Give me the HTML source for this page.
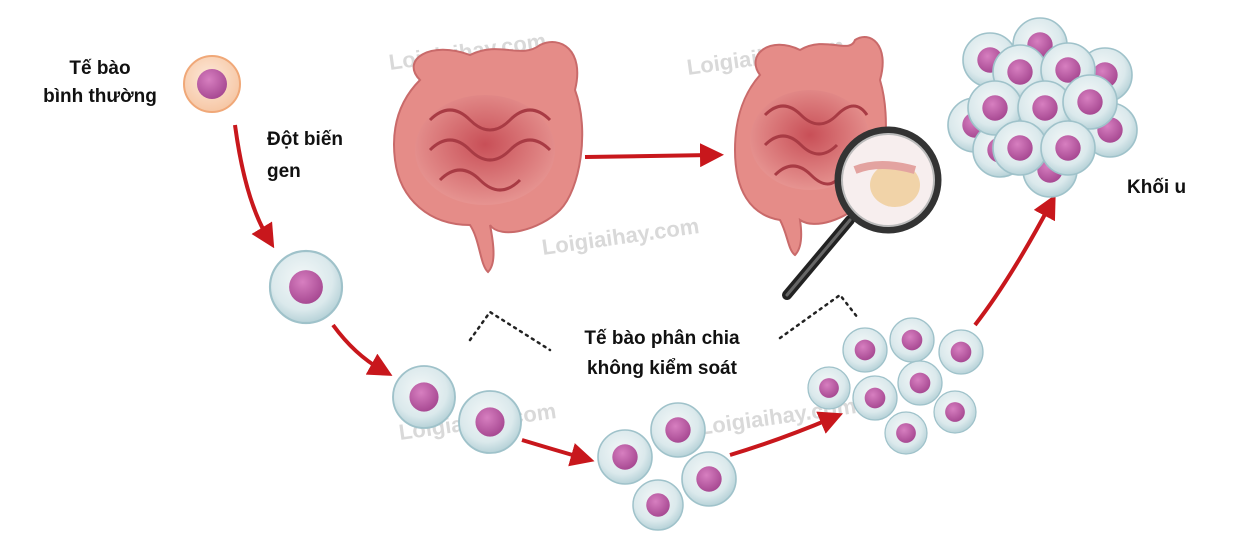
<!DOCTYPE html>
<html><head><meta charset="utf-8"><style>
html,body{margin:0;padding:0;background:#fff;}
svg{display:block;}
text{font-family:"Liberation Sans","DejaVu Sans",sans-serif;}
</style></head><body>
<svg width="1254" height="536" viewBox="0 0 1254 536" xmlns="http://www.w3.org/2000/svg">
<defs>
<radialGradient id="cell" cx="45%" cy="40%" r="60%">
<stop offset="0" stop-color="#f4f8f8"/><stop offset="0.7" stop-color="#dbe9ec"/><stop offset="1" stop-color="#b7d2d8"/></radialGradient>
<radialGradient id="nuc" cx="40%" cy="35%" r="65%">
<stop offset="0" stop-color="#d77fc0"/><stop offset="1" stop-color="#a84a93"/></radialGradient>
<radialGradient id="norm" cx="45%" cy="40%" r="60%">
<stop offset="0" stop-color="#fde9da"/><stop offset="1" stop-color="#f6c7a5"/></radialGradient>
<radialGradient id="gut" cx="50%" cy="45%" r="60%">
<stop offset="0" stop-color="#c84f57"/><stop offset="1" stop-color="#e99a96"/></radialGradient>
<marker id="ah" markerWidth="6" markerHeight="6" refX="3" refY="3" orient="auto" markerUnits="strokeWidth">
<path d="M0,0 L6,3 L0,6 Z" fill="#c8171c"/></marker>
<g id="c"><circle r="1" fill="url(#cell)" stroke="#9fc2ca" stroke-width="0.06"/><circle r="0.47" fill="url(#nuc)"/></g>
</defs>

<!-- watermarks -->
<g fill="#d9d9d9" font-weight="bold" font-family="Liberation Serif,serif" font-size="22">
<text x="390" y="70" transform="rotate(-8 390 70)">Loigiaihay.com</text>
<text x="688" y="75" transform="rotate(-8 688 75)">Loigiaihay.com</text>
<text x="543" y="255" transform="rotate(-8 543 255)">Loigiaihay.com</text>
<text x="400" y="440" transform="rotate(-8 400 440)">Loigiaihay.com</text>
<text x="700" y="435" transform="rotate(-8 700 435)">Loigiaihay.com</text>
</g>

<!-- intestines -->
<g>
<path d="M420,80 C400,60 430,40 470,55 C500,40 520,60 540,45 C560,35 585,50 575,90 C590,130 580,190 560,210 C540,230 500,240 490,225 C495,250 495,265 488,272 C480,265 480,240 470,225 C430,225 400,200 395,160 C390,120 405,95 420,80 Z" fill="#e58c88" stroke="#c96a6a" stroke-width="2"/>
<ellipse cx="485" cy="150" rx="70" ry="55" fill="url(#gut)"/>
<path d="M430,120 q20,-20 40,0 t40,0 t40,0 M430,150 q20,-20 40,0 t40,0 t40,0 M440,180 q20,-20 40,0 t40,0" fill="none" stroke="#a83b44" stroke-width="3"/>
<path d="M760,75 C745,55 770,35 800,50 C825,35 850,55 855,40 C870,30 890,45 880,80 C892,120 885,180 865,200 C845,220 815,230 800,220 C803,240 800,250 795,255 C788,250 788,235 780,220 C750,215 735,190 735,150 C735,115 745,92 760,75 Z" fill="#e58c88" stroke="#c96a6a" stroke-width="2"/>
<ellipse cx="810" cy="140" rx="60" ry="50" fill="url(#gut)"/>
<path d="M765,115 q18,-18 36,0 t36,0 t30,0 M765,145 q18,-18 36,0 t36,0 M775,175 q18,-18 36,0 t30,0" fill="none" stroke="#a83b44" stroke-width="3"/>
<line x1="850" y1="220" x2="787" y2="295" stroke="#222" stroke-width="10" stroke-linecap="round"/>
<line x1="850" y1="220" x2="787" y2="295" stroke="#666" stroke-width="3" stroke-linecap="round"/>
<circle cx="888" cy="180" r="50" fill="#f7eeee" stroke="#333" stroke-width="7"/>
<circle cx="888" cy="180" r="46" fill="none" stroke="#bbb" stroke-width="2"/>
<ellipse cx="895" cy="185" rx="25" ry="22" fill="#f1d3a8"/>
<path d="M855,170 q25,-10 60,0" stroke="#e3a3a0" stroke-width="8" fill="none"/>
</g>

<!-- straight arrow -->
<path d="M585,157 L712,155" stroke="#c8171c" stroke-width="4" fill="none" marker-end="url(#ah)"/>
<!-- curved arrows -->
<g stroke="#c8171c" stroke-width="4" fill="none" marker-end="url(#ah)">
<path d="M235,125 Q245,200 268,238"/>
<path d="M333,325 Q355,355 382,370"/>
<path d="M522,440 Q555,450 583,458"/>
<path d="M730,455 Q780,440 832,418"/>
<path d="M975,325 Q1010,280 1050,205"/>
</g>

<!-- dotted lines -->
<g stroke="#222" stroke-width="2.5" stroke-dasharray="2 5" fill="none" stroke-linecap="round">
<path d="M470,340 L490,312 L550,350"/>
<path d="M780,338 L840,295 L858,318"/>
</g>

<!-- normal cell -->
<circle cx="212" cy="84" r="28" fill="url(#norm)" stroke="#f0a878" stroke-width="2"/>
<circle cx="212" cy="84" r="15" fill="url(#nuc)"/>

<!-- cells -->
<use href="#c" transform="translate(306,287) scale(36)"/>
<use href="#c" transform="translate(424,397) scale(31)"/>
<use href="#c" transform="translate(490,422) scale(31)"/>
<use href="#c" transform="translate(625,457) scale(27)"/>
<use href="#c" transform="translate(678,430) scale(27)"/>
<use href="#c" transform="translate(709,479) scale(27)"/>
<use href="#c" transform="translate(658,505) scale(25)"/>
<use href="#c" transform="translate(865,350) scale(22)"/>
<use href="#c" transform="translate(912,340) scale(22)"/>
<use href="#c" transform="translate(961,352) scale(22)"/>
<use href="#c" transform="translate(829,388) scale(21)"/>
<use href="#c" transform="translate(875,398) scale(22)"/>
<use href="#c" transform="translate(920,383) scale(22)"/>
<use href="#c" transform="translate(955,412) scale(21)"/>
<use href="#c" transform="translate(906,433) scale(21)"/>

<!-- tumor -->
<use href="#c" transform="translate(990,60) scale(27)"/>
<use href="#c" transform="translate(1040,45) scale(27)"/>
<use href="#c" transform="translate(1105,75) scale(27)"/>
<use href="#c" transform="translate(975,125) scale(27)"/>
<use href="#c" transform="translate(1000,150) scale(27)"/>
<use href="#c" transform="translate(1050,170) scale(27)"/>
<use href="#c" transform="translate(1110,130) scale(27)"/>
<use href="#c" transform="translate(1020,72) scale(27)"/>
<use href="#c" transform="translate(1068,70) scale(27)"/>
<use href="#c" transform="translate(995,108) scale(27)"/>
<use href="#c" transform="translate(1045,108) scale(27)"/>
<use href="#c" transform="translate(1090,102) scale(27)"/>
<use href="#c" transform="translate(1020,148) scale(27)"/>
<use href="#c" transform="translate(1068,148) scale(27)"/>

<!-- labels -->
<g font-weight="bold" font-size="19" fill="#111">
<text x="100" y="74" text-anchor="middle">Tế bào</text>
<text x="100" y="102" text-anchor="middle">bình thường</text>
<text x="267" y="145">Đột biến</text>
<text x="267" y="177">gen</text>
<text x="662" y="344" text-anchor="middle">Tế bào phân chia</text>
<text x="662" y="374" text-anchor="middle">không kiểm soát</text>
<text x="1127" y="193">Khối u</text>
</g>
</svg>
</body></html>
